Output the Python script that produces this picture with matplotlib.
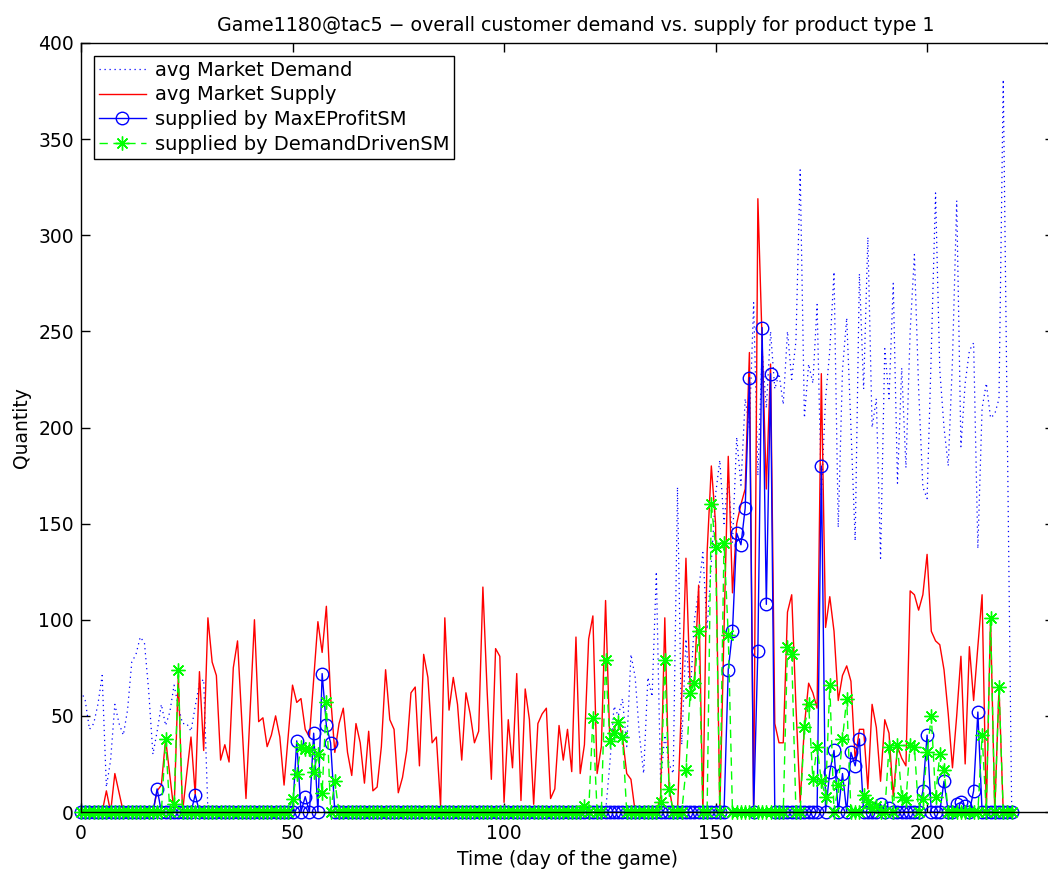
import numpy as np
import matplotlib
matplotlib.use("Agg")
from matplotlib import pyplot as plt

plt.rcParams['font.family'] = ['DejaVu Sans']
plt.rcParams['font.size'] = 13.5

days = np.arange(221)

# avg Market Demand, rows of 10 days
market_demand = [
    63, 58, 43, 46, 56, 71, 13, 27, 56, 46,        # 0
    40, 53, 78, 82, 91, 88, 63, 30, 42, 56,        # 10
    45, 52, 66, 55, 46, 46, 42, 55, 67, 69,        # 20
    0, 0, 0, 0, 0, 0, 0, 0, 0, 0,                  # 30
    0, 0, 0, 0, 0, 0, 0, 0, 0, 0,                  # 40
    0, 0, 0, 0, 0, 0, 0, 0, 0, 0,                  # 50
    0, 0, 0, 0, 0, 0, 0, 0, 0, 0,                  # 60
    0, 0, 0, 0, 0, 0, 0, 0, 0, 0,                  # 70
    0, 0, 0, 0, 0, 0, 0, 0, 0, 0,                  # 80
    0, 0, 0, 0, 0, 0, 0, 0, 0, 0,                  # 90
    0, 0, 0, 0, 0, 0, 0, 0, 0, 0,                  # 100
    0, 0, 0, 0, 0, 0, 0, 0, 0, 0,                  # 110
    0, 0, 0, 0, 0, 25, 55, 50, 59, 34,             # 120
    82, 70, 40, 20, 70, 60, 125, 15, 40, 25,       # 130
    20, 169, 35, 90, 60, 100, 115, 135, 95, 130,   # 140
    165, 183, 150, 175, 140, 195, 170, 215, 200, 265,  # 150
    175, 240, 210, 250, 220, 228, 212, 250, 225, 245,  # 160
    334, 205, 233, 223, 264, 164, 215, 240, 281, 148,  # 170
    230, 257, 200, 141, 280, 220, 299, 200, 215, 132,  # 180
    241, 215, 275, 171, 231, 179, 250, 290, 220, 169,  # 190
    163, 240, 322, 230, 200, 180, 235, 318, 190, 223,  # 200
    240, 244, 137, 210, 223, 205, 207, 215, 381, 190,  # 210
    0,                                                 # 220
]

# avg Market Supply
market_supply = [
    0, 0, 0, 0, 0, 0, 11, 0, 20, 10,               # 0
    0, 0, 0, 0, 0, 0, 0, 0, 11, 14,                # 10
    38, 19, 0, 71, 0, 20, 39, 9, 73, 32,           # 20
    101, 78, 71, 27, 35, 26, 75, 89, 48, 7,        # 30
    53, 100, 47, 49, 34, 40, 50, 39, 14, 40,       # 40
    66, 57, 59, 43, 39, 69, 99, 83, 107, 60,       # 50
    31, 46, 54, 31, 19, 46, 36, 15, 42, 11,        # 60
    13, 34, 74, 48, 43, 10, 18, 32, 62, 65,        # 70
    24, 82, 70, 36, 39, 3, 101, 53, 70, 56,        # 80
    27, 62, 51, 36, 42, 117, 63, 17, 85, 81,       # 90
    5, 48, 23, 72, 6, 64, 48, 4, 46, 51,           # 100
    54, 7, 12, 45, 27, 43, 21, 91, 20, 35,         # 110
    90, 102, 20, 34, 110, 37, 43, 48, 39, 20,      # 120
    17, 0, 0, 0, 0, 0, 0, 8, 101, 13,              # 130
    0, 0, 60, 132, 64, 69, 118, 0, 135, 180,       # 140
    150, 0, 95, 185, 114, 150, 160, 168, 239, 0,   # 150
    319, 245, 168, 233, 46, 36, 36, 104, 113, 55,  # 160
    5, 45, 67, 62, 54, 228, 96, 112, 94, 58,       # 170
    71, 76, 68, 27, 43, 43, 12, 56, 44, 16,        # 180
    48, 41, 8, 34, 28, 24, 115, 113, 105, 113,     # 190
    134, 94, 89, 87, 74, 51, 23, 50, 81, 25,       # 200
    86, 58, 86, 113, 0, 101, 0, 65, 0, 0,          # 210
    0,                                             # 220
]

# supplied by MaxEProfitSM
max_eprofit = [
    0, 0, 0, 0, 0, 0, 0, 0, 0, 0,                  # 0
    0, 0, 0, 0, 0, 0, 0, 0, 12, 0,                 # 10
    0, 0, 0, 0, 0, 0, 0, 9, 0, 0,                  # 20
    0, 0, 0, 0, 0, 0, 0, 0, 0, 0,                  # 30
    0, 0, 0, 0, 0, 0, 0, 0, 0, 0,                  # 40
    0, 37, 0, 8, 0, 41, 0, 72, 45, 36,             # 50
    0, 0, 0, 0, 0, 0, 0, 0, 0, 0,                  # 60
    0, 0, 0, 0, 0, 0, 0, 0, 0, 0,                  # 70
    0, 0, 0, 0, 0, 0, 0, 0, 0, 0,                  # 80
    0, 0, 0, 0, 0, 0, 0, 0, 0, 0,                  # 90
    0, 0, 0, 0, 0, 0, 0, 0, 0, 0,                  # 100
    0, 0, 0, 0, 0, 0, 0, 0, 0, 0,                  # 110
    0, 0, 0, 0, 0, 0, 0, 0, 0, 0,                  # 120
    0, 0, 0, 0, 0, 0, 0, 0, 0, 0,                  # 130
    0, 0, 0, 0, 0, 0, 0, 0, 0, 0,                  # 140
    0, 0, 0, 74, 94, 145, 139, 158, 226, 0,        # 150
    84, 252, 108, 228, 0, 0, 0, 0, 0, 0,           # 160
    0, 0, 0, 0, 0, 180, 0, 21, 32, 0,              # 170
    20, 0, 31, 24, 38, 0, 0, 0, 0, 4,              # 180
    0, 2, 0, 0, 0, 0, 0, 0, 0, 11,                 # 190
    40, 0, 0, 0, 16, 0, 0, 4, 5, 3,                # 200
    0, 11, 52, 0, 0, 0, 0, 0, 0, 0,                # 210
    0,                                             # 220
]

# supplied by DemandDrivenSM
demand_driven = [
    0, 0, 0, 0, 0, 0, 0, 0, 0, 0,                  # 0
    0, 0, 0, 0, 0, 0, 0, 0, 0, 0,                  # 10
    38, 0, 4, 74, 0, 0, 0, 0, 0, 0,                # 20
    0, 0, 0, 0, 0, 0, 0, 0, 0, 0,                  # 30
    0, 0, 0, 0, 0, 0, 0, 0, 0, 0,                  # 40
    7, 20, 34, 33, 33, 21, 30, 10, 57, 0,          # 50
    16, 0, 0, 0, 0, 0, 0, 0, 0, 0,                 # 60
    0, 0, 0, 0, 0, 0, 0, 0, 0, 0,                  # 70
    0, 0, 0, 0, 0, 0, 0, 0, 0, 0,                  # 80
    0, 0, 0, 0, 0, 0, 0, 0, 0, 0,                  # 90
    0, 0, 0, 0, 0, 0, 0, 0, 0, 0,                  # 100
    0, 0, 0, 0, 0, 0, 0, 0, 0, 3,                  # 110
    0, 49, 0, 0, 79, 37, 41, 47, 39, 0,            # 120
    0, 0, 0, 0, 0, 0, 0, 5, 79, 12,                # 130
    0, 0, 0, 22, 62, 67, 94, 0, 0, 160,            # 140
    138, 0, 140, 92, 0, 0, 0, 0, 0, 0,             # 150
    0, 0, 0, 0, 0, 0, 0, 86, 82, 0,                # 160
    0, 44, 56, 17, 34, 16, 8, 66, 0, 14,           # 170
    38, 59, 0, 0, 0, 9, 5, 2, 3, 0,                # 180
    0, 34, 0, 35, 8, 6, 35, 34, 0, 7,              # 190
    31, 50, 8, 30, 22, 0, 0, 0, 0, 0,              # 200
    0, 0, 0, 40, 0, 101, 0, 65, 0, 0,              # 210
    0,                                             # 220
]

fig = plt.figure(figsize=(10.48, 8.75), dpi=100)
ax = fig.add_axes([81/1048, 63/875, 973/1048, 769/875])

ax.plot(days, market_demand, color='b', ls=(0, (1, 3)), lw=0.9, label='avg Market Demand')
ax.plot(days, market_supply, color='r', lw=1.0, label='avg Market Supply')
ax.plot(days, max_eprofit, color='b', lw=1.0, marker='o', ms=9, mfc='none', mew=1.0,
        clip_on=False, label='supplied by MaxEProfitSM')
ax.plot(days, demand_driven, color=(0, 1, 0), lw=1.0, ls='--', dashes=(6, 4),
        marker=(8, 2, 0), ms=10, mew=1.0, clip_on=False, label='supplied by DemandDrivenSM')

ax.set_xlim(0, 230)
ax.set_ylim(0, 400)
ax.set_xticks([0, 50, 100, 150, 200])
ax.set_yticks(np.arange(0, 401, 50))
ax.tick_params(direction='in', top=True, right=True, length=6.5, width=1)
ax.tick_params(axis='x', pad=8.5)
ax.tick_params(axis='y', pad=5)
for s in ax.spines.values():
    s.set_linewidth(1.0)

ax.set_title('Game1180@tac5 \u2212 overall customer demand vs. supply for product type 1',
             fontsize=13.7, pad=8.3, x=(576 - 81) / 973)
ax.set_xlabel('Time (day of the game)', labelpad=5)
ax.set_ylabel('Quantity', labelpad=5)

leg = ax.legend(loc='upper left', bbox_to_anchor=(13/973, 1 - 13/769), borderaxespad=0,
                fontsize=14, fancybox=False, framealpha=1, edgecolor='k', handlelength=2.4,
                handletextpad=0.49, labelspacing=0.29, borderpad=0.25)
leg.get_frame().set_linewidth(1.0)

fig.savefig('out.png', dpi=100)
